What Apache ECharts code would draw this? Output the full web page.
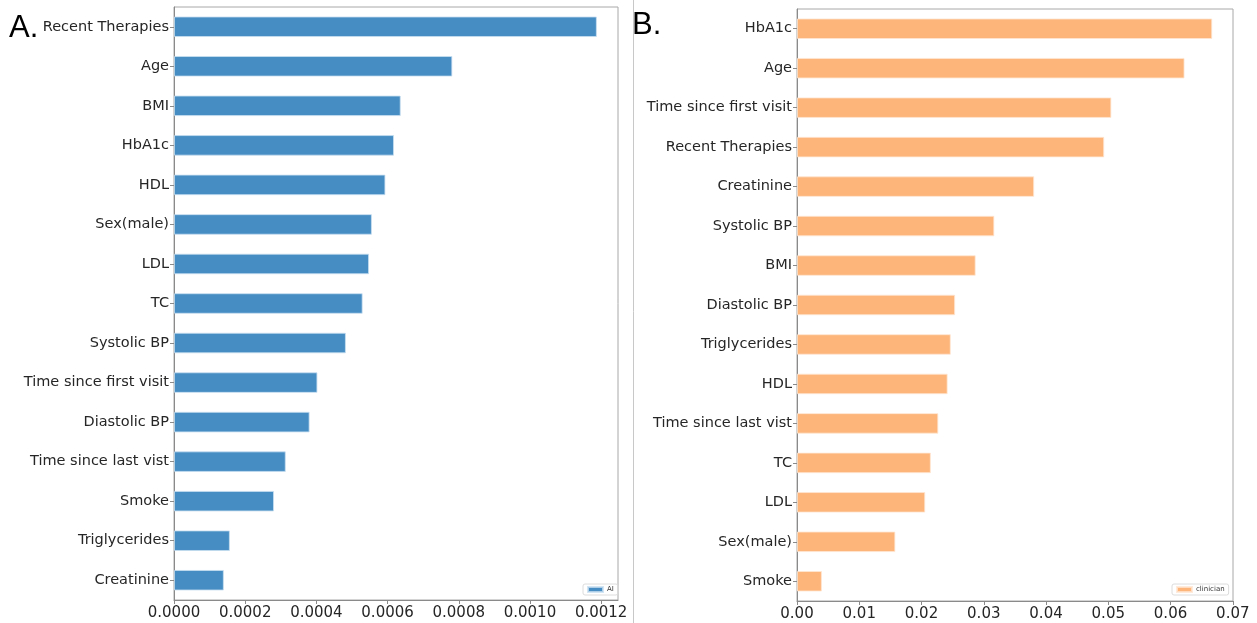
<!DOCTYPE html>
<html>
<head>
<meta charset="utf-8">
<script src="https://cdn.jsdelivr.net/npm/echarts@6/dist/echarts.min.js"></script>
<style>
  html, body { margin: 0; padding: 0; background: #fff; }
  #chart { width: 1257px; height: 623px; }
</style>
</head>
<body>
<div id="chart"></div>
<script>
// Feature importance, AI model (panel A), listed top to bottom
const aiCategories = ['Recent Therapies', 'Age', 'BMI', 'HbA1c', 'HDL', 'Sex(male)', 'LDL', 'TC',
  'Systolic BP', 'Time since first visit', 'Diastolic BP', 'Time since last vist', 'Smoke',
  'Triglycerides', 'Creatinine'];
const aiValues = [0.001188, 0.000782, 0.000637, 0.000618, 0.000594, 0.000556, 0.000548, 0.000530,
  0.000483, 0.000403, 0.000381, 0.000314, 0.000281, 0.000157, 0.000140];
const aiTicks = [0, 0.0002, 0.0004, 0.0006, 0.0008, 0.0010, 0.0012];

// Feature importance, clinician (panel B), listed top to bottom
const clinCategories = ['HbA1c', 'Age', 'Time since first visit', 'Recent Therapies', 'Creatinine',
  'Systolic BP', 'BMI', 'Diastolic BP', 'Triglycerides', 'HDL', 'Time since last vist', 'TC',
  'LDL', 'Sex(male)', 'Smoke'];
const clinValues = [0.0667, 0.06225, 0.0505, 0.04935, 0.0381, 0.0317, 0.0287, 0.0254, 0.0247,
  0.0242, 0.0227, 0.0215, 0.0206, 0.0158, 0.0040];
const clinTicks = [0, 0.01, 0.02, 0.03, 0.04, 0.05, 0.06, 0.07];

const FONT = 'DejaVu Sans';
const TEXT = '#262626';

function valueAxis(gridIndex, values, ticks, digits) {
  return {
    type: 'value', gridIndex: gridIndex,
    min: 0, max: Math.max.apply(null, values) * 1.05,
    axisLine: { show: true, lineStyle: { color: '#8a8a8a', width: 1 } },
    axisTick: { show: true, length: 4, customValues: ticks, lineStyle: { color: '#8a8a8a' } },
    axisLabel: { customValues: ticks, margin: 6, color: TEXT, fontFamily: FONT, fontSize: 15,
      formatter: v => v.toFixed(digits) },
    splitLine: { show: false }
  };
}

function categoryAxis(gridIndex, cats) {
  return {
    type: 'category', gridIndex: gridIndex, data: cats, inverse: true,
    axisLine: { show: true, lineStyle: { color: '#8a8a8a', width: 1 } },
    axisTick: { show: true, length: 4, alignWithLabel: true, lineStyle: { color: '#8a8a8a' } },
    axisLabel: { margin: 5, color: TEXT, fontFamily: FONT, fontSize: 14.5 }
  };
}

const chart = echarts.init(document.getElementById('chart'), null, { renderer: 'canvas' });
chart.setOption({
  backgroundColor: '#fff',
  animation: false,
  grid: [
    { left: 174, right: 639, top: 7, bottom: 23, show: true, borderColor: '#a8a8a8', borderWidth: 1 },
    { left: 797, right: 24, top: 9, bottom: 22, show: true, borderColor: '#a8a8a8', borderWidth: 1 }
  ],
  xAxis: [
    valueAxis(0, aiValues, aiTicks, 4),
    valueAxis(1, clinValues, clinTicks, 2)
  ],
  yAxis: [
    categoryAxis(0, aiCategories),
    categoryAxis(1, clinCategories)
  ],
  legend: [
    { data: ['AI'], left: 583, top: 584, icon: 'rect', itemWidth: 15, itemHeight: 5, itemGap: 4,
      padding: [2, 4, 2, 4], borderColor: '#dcdcdc', borderWidth: 1, borderRadius: 2,
      textStyle: { fontFamily: FONT, fontSize: 7, color: '#333', padding: [0, 0, 0, -1] } },
    { data: ['clinician'], left: 1172, top: 584, icon: 'rect', itemWidth: 15, itemHeight: 5, itemGap: 4,
      padding: [2, 4, 2, 4], borderColor: '#dcdcdc', borderWidth: 1, borderRadius: 2,
      textStyle: { fontFamily: FONT, fontSize: 7, color: '#333', padding: [0, 0, 0, -1] } }
  ],
  graphic: [
    { type: 'text', left: 9, top: 13, style: { text: 'A.', fill: '#000', font: '31px "Liberation Sans"' } },
    { type: 'text', left: 632, top: 10, style: { text: 'B.', fill: '#000', font: '31px "Liberation Sans"' } },
    { type: 'line', shape: { x1: 633.5, y1: 0, x2: 633.5, y2: 623 }, style: { stroke: '#c8c8c8', lineWidth: 1 } }
  ],
  series: [
    { name: 'AI', type: 'bar', xAxisIndex: 0, yAxisIndex: 0, data: aiValues, barWidth: '52%',
      itemStyle: { color: '#458dc3', borderColor: 'rgba(200,222,240,0.8)', borderWidth: 1 } },
    { name: 'clinician', type: 'bar', xAxisIndex: 1, yAxisIndex: 1, data: clinValues, barWidth: '52%',
      itemStyle: { color: '#fdb57a', borderColor: 'rgba(255,230,210,0.8)', borderWidth: 1 } }
  ]
});
</script>
</body>
</html>
